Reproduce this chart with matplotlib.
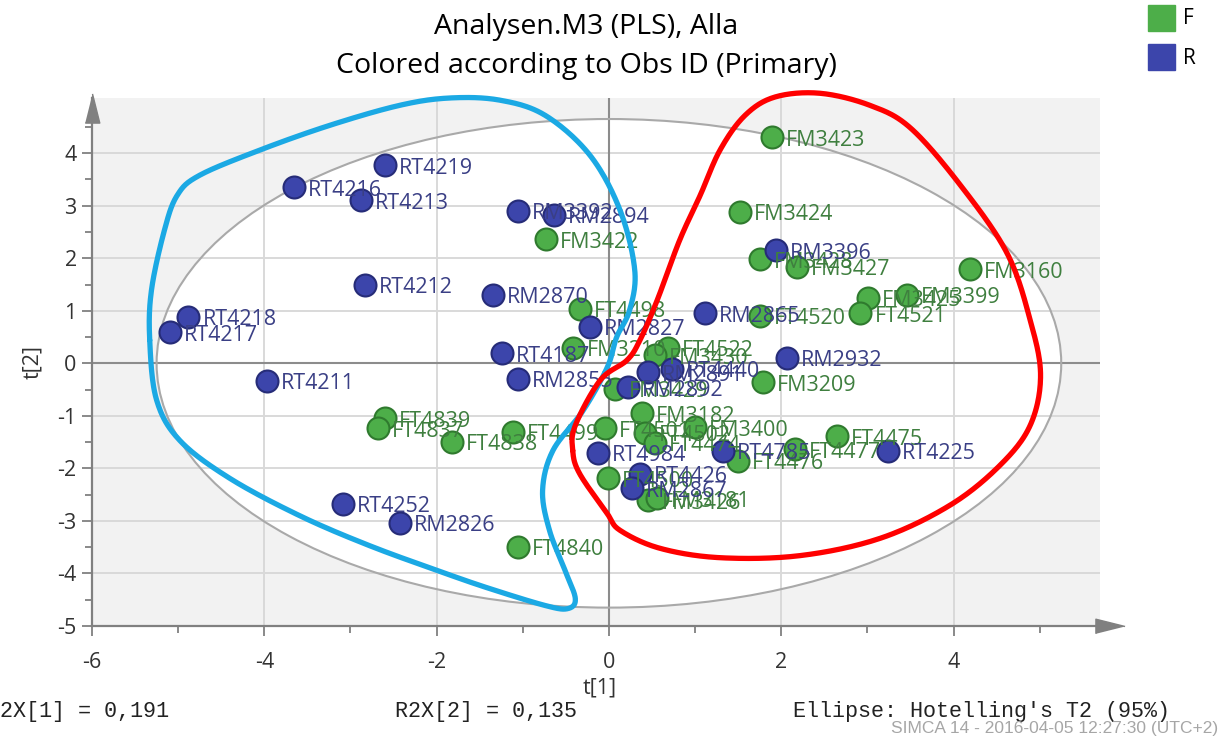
import numpy as np
import matplotlib
matplotlib.use('Agg')
import matplotlib.pyplot as plt
from matplotlib.patches import Ellipse, Rectangle
from matplotlib.transforms import ScaledTranslation

plt.rcParams['font.family'] = ['Open Sans', 'DejaVu Sans']
plt.rcParams['axes.unicode_minus'] = False

# score values t[1], t[2] per observation
r_names = ['RT4219', 'RT4216', 'RT4213', 'RM3392', 'RM2894', 'RT4212', 'RM2870',
           'RM2827', 'RT4218', 'RT4217', 'RT4187', 'RT4211', 'RM2855', 'RT4252',
           'RM2826', 'RM2865', 'RM3396', 'RM2932', 'RT4225', 'RT4785', 'RT4984',
           'RT4426', 'RM2867', 'RT4440', 'RM2891', 'RM2892']
r_t1 = [-2.60, -3.65, -2.88, -1.06, -0.64, -2.83, -1.35, -0.22, -4.88, -5.09,
        -1.24, -3.97, -1.06, -3.09, -2.42, 1.11, 1.94, 2.07, 3.24, 1.32, -0.13,
        0.36, 0.27, 0.73, 0.45, 0.22]
r_t2 = [3.77, 3.35, 3.10, 2.90, 2.82, 1.49, 1.30, 0.69, 0.88, 0.59, 0.19, -0.34,
        -0.30, -2.67, -3.03, 0.95, 2.15, 0.10, -1.66, -1.66, -1.70, -2.10, -2.38,
        -0.10, -0.17, -0.46]

f_names = ['FM3423', 'FM3424', 'FM3428', 'FM3427', 'FM3160', 'FM3425', 'FM3399',
           'FT4521', 'FT4520', 'FM3209', 'FT4475', 'FT4477', 'FT4476', 'FM3400',
           'FM3182', 'FT4501', 'FT4502', 'FT4474', 'FM3422', 'FT4498', 'FM3210',
           'FT4522', 'FM3430', 'FM3429', 'FT4839', 'FT4837', 'FT4838', 'FT4499',
           'FT4840', 'FT4500', 'FM3426', 'FM3181']
f_t1 = [1.89, 1.52, 1.75, 2.18, 4.19, 3.01, 3.46, 2.92, 1.75, 1.79, 2.65, 2.16,
        1.50, 1.00, 0.38, -0.05, 0.42, 0.53, -0.73, -0.34, -0.42, 0.69, 0.53,
        0.07, -2.60, -2.68, -1.82, -1.11, -1.05, -0.01, 0.45, 0.56]
f_t2 = [4.30, 2.88, 1.98, 1.83, 1.79, 1.24, 1.30, 0.95, 0.91, -0.36, -1.39, -1.64,
        -1.85, -1.22, -0.95, -1.24, -1.33, -1.52, 2.36, 1.03, 0.30, 0.29, 0.15,
        -0.48, -1.05, -1.24, -1.50, -1.31, -3.50, -2.19, -2.61, -2.57]

# hotelling T2 ellipse half axes
ell_a, ell_b = 5.25, 4.65

# hand drawn group outlines (t[1], t[2])
blue_loop_x = [-5.33, -5.31, -5.16, -5.01, -4.75, -4.05, -3.24, -2.43, -1.85, -1.27,
               -0.74, -0.22, 0.13, 0.30, 0.24, 0.09, -0.02, -0.30, -0.65, -0.77,
               -0.69, -0.51, -0.39, -0.48, -0.74, -1.38, -1.93, -2.78, -3.59, -4.40,
               -4.98, -5.25]
blue_loop_y = [0.44, 1.39, 2.53, 3.20, 3.58, 4.06, 4.53, 4.91, 5.05, 5.01,
               4.72, 3.96, 2.91, 1.77, 1.01, 0.50, -0.08, -0.90, -1.66, -2.42,
               -3.18, -3.94, -4.48, -4.67, -4.61, -4.29, -3.98, -3.47, -2.90, -2.19,
               -1.47, -0.70]
red_loop_x = [-0.42, -0.39, -0.10, 0.21, 0.36, 0.56, 0.82, 1.06, 1.29, 1.58, 1.93,
              2.45, 3.03, 3.50, 4.08, 4.62, 4.89, 5.01, 4.89, 4.54, 3.96, 3.15, 2.22,
              1.29, 0.59, 0.13, -0.02, -0.34]
red_loop_y = [-1.66, -1.18, -0.32, 0.06, 0.44, 1.20, 2.34, 3.20, 4.06, 4.72, 5.07,
              5.14, 4.91, 4.48, 3.39, 2.10, 0.82, -0.23, -1.18, -1.94, -2.70, -3.33,
              -3.66, -3.70, -3.52, -3.18, -2.86, -2.10]


def closed_spline(xs, ys, n=24):
    # catmull-rom through the points, closed
    P = np.column_stack([xs, ys])
    m = len(P)
    t = np.linspace(0, 1, n, endpoint=False)[:, None]
    parts = []
    for i in range(m):
        p0, p1, p2, p3 = P[(i - 1) % m], P[i], P[(i + 1) % m], P[(i + 2) % m]
        parts.append(0.5 * (2 * p1 + (-p0 + p2) * t
                            + (2 * p0 - 5 * p1 + 4 * p2 - p3) * t ** 2
                            + (-p0 + 3 * p1 - 3 * p2 + p3) * t ** 3))
    out = np.vstack(parts + [parts[0][:1]])
    return out[:, 0], out[:, 1]


green = '#4DAE49'
green_edge = '#2F7A2E'
green_txt = '#3F7F3F'
blue = '#3C45AB'
blue_edge = '#262C78'
blue_txt = '#3A3F85'
axis_gray = '#808080'

fig = plt.figure(figsize=(12.22, 7.38), dpi=100)
ax = fig.add_axes([92 / 1222, 112 / 738, 1008 / 1222, 528 / 738])
ax.set_facecolor('#F2F2F2')
ax.set_xlim(-6, 5.70)
ax.set_ylim(-5, 5.05)

ax.add_patch(Ellipse((0, 0), 2 * ell_a, 2 * ell_b, facecolor='white',
                     edgecolor='none', zorder=0.2))
ax.add_patch(Ellipse((0, 0), 2 * ell_a, 2 * ell_b, facecolor='none',
                     edgecolor='#A9A9A9', lw=1.5, zorder=0.7))

ax.set_axisbelow(True)
ax.set_xticks([-6, -4, -2, 0, 2, 4])
ax.set_xticks([-5, -3, -1, 1, 3, 5], minor=True)
ax.set_yticks(range(-5, 5))
ax.set_yticks(np.arange(-4.5, 5, 1), minor=True)
ax.grid(True, which='major', color='#D9D9D9', lw=1.4)
ax.axhline(0, color='#8C8C8C', lw=1.5, zorder=0.6)
ax.axvline(0, color='#8C8C8C', lw=1.5, zorder=0.6)

for s in ['top', 'right']:
    ax.spines[s].set_visible(False)
for s in ['left', 'bottom']:
    ax.spines[s].set_color(axis_gray)
    ax.spines[s].set_linewidth(1.6)
ax.tick_params(which='both', direction='out', color=axis_gray, width=1.3,
               labelsize=15.5, labelcolor='#333333')
ax.tick_params(which='major', length=7, pad=4)
ax.tick_params(which='minor', length=5)
ax.tick_params(axis='x', which='major', pad=12)

# arrow heads on the axes
up = [(-0.25, -0.5), (0.25, -0.5), (0, 0.5)]
right = [(-0.5, -0.25), (-0.5, 0.25), (0.5, 0)]
ax.plot([0], [1], marker=up, markersize=21, color=axis_gray, clip_on=False,
        transform=ax.transAxes + ScaledTranslation(0, -0.1, fig.dpi_scale_trans))
ax.plot([1], [0], marker=right, markersize=21, color=axis_gray, clip_on=False,
        transform=ax.transAxes + ScaledTranslation(0.1, 0, fig.dpi_scale_trans))

ax.scatter(f_t1, f_t2, s=250, c=green, edgecolors=green_edge, linewidths=1.5,
           zorder=3)
ax.scatter(r_t1, r_t2, s=250, c=blue, edgecolors=blue_edge, linewidths=1.5,
           zorder=3)
for n, x, y in zip(f_names, f_t1, f_t2):
    ax.annotate(n, (x, y), xytext=(10, -2), textcoords='offset points',
                va='center', ha='left', fontsize=15.5, color=green_txt, zorder=4)
for n, x, y in zip(r_names, r_t1, r_t2):
    ax.annotate(n, (x, y), xytext=(10, -2), textcoords='offset points',
                va='center', ha='left', fontsize=15.5, color=blue_txt, zorder=4)

bx, by = closed_spline(blue_loop_x, blue_loop_y)
ax.plot(bx, by, color='#1BA9E4', lw=3.8, clip_on=False, zorder=5,
        solid_capstyle='round')
rx, ry = closed_spline(red_loop_x, red_loop_y)
ax.plot(rx, ry, color='#FF0000', lw=3.8, clip_on=False, zorder=5,
        solid_capstyle='round')

ax.set_ylabel('t[2]', fontsize=15.5, color='#333333', labelpad=10)

fig.text(586 / 1222, 1 - 27 / 738, 'Analysen.M3 (PLS), Alla', ha='center',
         va='center', fontsize=20.5)
fig.text(586 / 1222, 1 - 66 / 738, 'Colored according to Obs ID (Primary)',
         ha='center', va='center', fontsize=20.5)
fig.text(600 / 1222, 1 - 688 / 738, 't[1]', ha='center', va='center',
         fontsize=15.5, color='#333333')

# legend
fig.patches.append(Rectangle((1148 / 1222, 1 - 31 / 738), 27 / 1222, 26 / 738,
                             transform=fig.transFigure, color=green))
fig.patches.append(Rectangle((1148 / 1222, 1 - 70 / 738), 27 / 1222, 26 / 738,
                             transform=fig.transFigure, color=blue))
fig.text(1183 / 1222, 1 - 19 / 738, 'F', va='center', fontsize=15)
fig.text(1183 / 1222, 1 - 58 / 738, 'R', va='center', fontsize=15)

mono = dict(family='Liberation Mono', fontsize=15.7, va='center', color='#222222')
fig.text(-13 / 1222, 1 - 712 / 738, 'R2X[1] = 0,191', **mono)
fig.text(395 / 1222, 1 - 712 / 738, 'R2X[2] = 0,135', **mono)
fig.text(793 / 1222, 1 - 712 / 738, "Ellipse: Hotelling's T2 (95%)", **mono)
fig.text(1218 / 1222, 1 - 728 / 738, 'SIMCA 14 - 2016-04-05 12:27:30 (UTC+2)',
         ha='right', va='center', fontsize=12.5, color='#A6A6A6',
         family='Liberation Sans')

fig.savefig('out.png', dpi=100)
